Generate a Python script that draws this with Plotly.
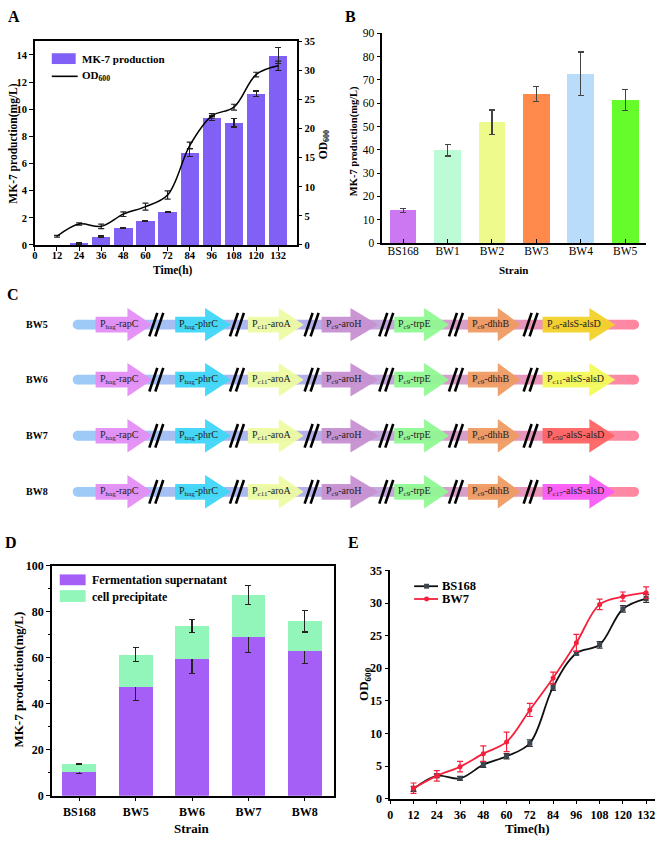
import plotly.graph_objects as go

W, H = 669, 843
FONT = 'Liberation Serif'


def px(x):
    return x / W


def py(y):
    return 1 - y / H


# ---------------- data ----------------
# A: BS168 time course
time_a = [12, 24, 36, 48, 60, 72, 84, 96, 108, 120, 132]
mk7_time = [24, 36, 48, 60, 72, 84, 96, 108, 120, 132]
mk7_a = [0.1, 0.62, 1.22, 1.78, 2.42, 6.8, 9.35, 9.0, 11.15, 13.95]
mk7_a_err = [0.05, 0.04, 0.03, 0.04, 0.05, 0.3, 0.15, 0.3, 0.2, 0.6]
od_a = [1.5, 3.6, 3.2, 5.3, 6.6, 8.6, 17.1, 22.2, 23.7, 29.3, 30.8]
od_a_err = [0.15, 0.2, 0.4, 0.4, 0.6, 0.7, 0.6, 0.4, 0.5, 0.4, 0.8]

# B: strains
strains_b = ['BS168', 'BW1', 'BW2', 'BW3', 'BW4', 'BW5']
mk7_b = [14.0, 39.8, 51.9, 63.8, 72.7, 61.3]
mk7_b_err = [0.8, 2.5, 5.2, 3.2, 9.3, 4.5]
colors_b = ['#cc78f2', '#bbfbd6', '#eefb8c', '#ff8a4c', '#b8dcfa', '#66fb2a']

# C: constructs
strains_c = ['BW5', 'BW6', 'BW7', 'BW8']
genes = ['rapC', 'phrC', 'aroA', 'aroH', 'trpE', 'dhhB', 'alsS-alsD']
promoters = ['hag', 'hag', 'c11', 'c9', 'c9', 'c9']
als_promoters = ['c9', 'c11', 'c50', 'c17']
gene_colors = ['#e48ef5', '#3fd6f7', '#edfca2', '#c690d1', '#90f991', '#ef9b63']
als_colors = ['#f1d22a', '#f3fb5a', '#ff6464', '#fa5cf6']

# D: supernatant vs cells
strains_d = ['BS168', 'BW5', 'BW6', 'BW7', 'BW8']
sup_d = [10.5, 47.3, 59.4, 69.0, 62.8]
sup_err = [1.0, 5.8, 6.3, 6.8, 5.5]
prec_d = [3.3, 14.0, 14.2, 18.3, 13.0]
prec_err = [0.3, 3.0, 2.8, 4.2, 4.7]

# E: growth curves
time_e = [12, 24, 36, 48, 60, 72, 84, 96, 108, 120, 132]
od_bs168 = [1.5, 3.5, 3.1, 5.2, 6.5, 8.5, 17.1, 22.3, 23.6, 29.1, 30.7]
od_bs168_err = [0.4, 0.3, 0.3, 0.4, 0.4, 0.5, 0.5, 0.3, 0.5, 0.5, 0.6]
od_bw7 = [1.6, 3.5, 4.9, 6.9, 8.7, 13.6, 18.5, 23.9, 29.8, 31.0, 31.6]
od_bw7_err = [0.8, 0.8, 0.8, 1.2, 1.5, 1.0, 0.9, 1.3, 0.8, 0.7, 0.9]

BAR_A = '#8060f5'
SUP_COL = '#a55ff7'
PREC_COL = '#92f6ba'
RED = '#f4203c'

fig = go.Figure()

# ---- A ----
fig.add_trace(go.Bar(
    x=mk7_time, y=mk7_a, width=10, marker=dict(color=BAR_A, line=dict(width=0)),
    error_y=dict(type='data', array=mk7_a_err, color='#222', thickness=1.2, width=3),
    xaxis='x', yaxis='y', showlegend=False))
fig.add_trace(go.Scatter(
    x=time_a, y=od_a, mode='lines', line=dict(color='black', width=1.5, shape='spline'),
    error_y=dict(type='data', array=od_a_err, color='#222', thickness=1.2, width=3),
    xaxis='x', yaxis='y2', showlegend=False))

# ---- B ----
fig.add_trace(go.Bar(
    x=strains_b, y=mk7_b, width=0.6, marker=dict(color=colors_b, line=dict(width=0)),
    error_y=dict(type='data', array=mk7_b_err, color='#444', thickness=1.2, width=3),
    xaxis='x2', yaxis='y3', showlegend=False))

# ---- D ----
fig.add_trace(go.Bar(
    x=strains_d, y=sup_d, width=0.6, marker=dict(color=SUP_COL, line=dict(width=0)),
    error_y=dict(type='data', array=sup_err, color='#222', thickness=1.2, width=3),
    xaxis='x3', yaxis='y4', showlegend=False))
fig.add_trace(go.Bar(
    x=strains_d, y=prec_d, width=0.6, marker=dict(color=PREC_COL, line=dict(width=0)),
    error_y=dict(type='data', array=prec_err, color='#222', thickness=1.2, width=3),
    xaxis='x3', yaxis='y4', showlegend=False))

# ---- E ----
fig.add_trace(go.Scatter(
    x=time_e, y=od_bs168, mode='lines+markers',
    line=dict(color='#111', width=1.8, shape='spline'),
    marker=dict(symbol='square', size=5, color='#3c4650'),
    error_y=dict(type='data', array=od_bs168_err, color='#333', thickness=1.2, width=3),
    xaxis='x4', yaxis='y5', showlegend=False))
fig.add_trace(go.Scatter(
    x=time_e, y=od_bw7, mode='lines+markers',
    line=dict(color=RED, width=1.8, shape='spline'),
    marker=dict(symbol='circle', size=5, color=RED),
    error_y=dict(type='data', array=od_bw7_err, color=RED, thickness=1.2, width=3),
    xaxis='x4', yaxis='y5', showlegend=False))

shapes = []
annotations = []


def bold(size):
    return dict(family=FONT, size=size, color='black', weight='bold')


def note(text, x, y, size, angle=0, anchor='center', weight='bold', color='black', ref=('paper', 'paper')):
    annotations.append(dict(
        text=text, x=x, y=y, xref=ref[0], yref=ref[1], showarrow=False,
        textangle=angle, xanchor=anchor, yanchor='middle',
        font=dict(family=FONT, size=size, color=color, weight=weight)))


# ---- C diagram (pixel-coordinate hidden axes) ----
row_y = [323, 379, 436, 493]
arrow_x = [(93, 125, 150), (173, 203, 229), (246, 277, 302), (320, 349, 377),
           (393, 423, 448), (467, 497, 520), (542, 589, 615)]
slash_x = [154, 235, 310, 385, 455, 530]
track_x0, track_x1 = 75, 634
grad_stops = [(75, (158, 203, 248)), (300, (178, 176, 236)), (430, (210, 162, 210)),
              (634, (255, 136, 160))]


def grad(x):
    for (xa, ca), (xb, cb) in zip(grad_stops[:-1], grad_stops[1:]):
        if xa <= x <= xb:
            t = (x - xa) / (xb - xa)
            return 'rgb(%d,%d,%d)' % tuple(int(a + (b - a) * t) for a, b in zip(ca, cb))
    return 'rgb(%d,%d,%d)' % grad_stops[-1][1]


C = dict(xref='x5', yref='y6')
for i, strain in enumerate(strains_c):
    yc = row_y[i]
    note('<b>%s</b>' % strain, 34, yc, 10, ref=('x5', 'y6'))
    # track with colour gradient and rounded ends
    th = 5
    shapes.append(dict(type='circle', x0=track_x0 - th, x1=track_x0 + th, y0=yc - th, y1=yc + th,
                       fillcolor=grad(track_x0), line=dict(width=0), layer='below', **C))
    shapes.append(dict(type='circle', x0=track_x1 - th, x1=track_x1 + th, y0=yc - th, y1=yc + th,
                       fillcolor=grad(track_x1), line=dict(width=0), layer='below', **C))
    step = 10
    xs = track_x0
    while xs < track_x1:
        xe = min(xs + step + 0.6, track_x1)
        shapes.append(dict(type='rect', x0=xs, x1=xe, y0=yc - th, y1=yc + th,
                           fillcolor=grad(xs + step / 2), line=dict(width=0), layer='below', **C))
        xs += step
    # arrows
    for j, gene in enumerate(genes):
        x0, xh, xt = arrow_x[j]
        col = gene_colors[j] if j < 6 else als_colors[i]
        prom = promoters[j] if j < 6 else als_promoters[i]
        bh, hh = 8, 17
        path = 'M %g,%g L %g,%g L %g,%g L %g,%g L %g,%g L %g,%g L %g,%g Z' % (
            x0, yc - bh, xh, yc - bh, xh, yc - hh, xt, yc, xh, yc + hh, xh, yc + bh, x0, yc + bh)
        shapes.append(dict(type='path', path=path, fillcolor=col, line=dict(width=0),
                           opacity=0.95, **C))
        note('P<sub>%s</sub>-%s' % (prom, gene), x0 + 2, yc, 10, anchor='left',
             weight='normal', color='#222', ref=('x5', 'y6'))
    # break marks
    for sx in slash_x:
        for d in (-3, 3):
            shapes.append(dict(type='line', x0=sx + d - 4, y0=yc + 12, x1=sx + d + 4, y1=yc - 12,
                               line=dict(color='black', width=2.6), **C))

# ---- legends (drawn) ----
# A
shapes.append(dict(type='rect', xref='paper', yref='paper', x0=px(49), x1=px(73),
                   y0=py(58), y1=py(47), fillcolor=BAR_A, line=dict(width=0)))
note('MK-7 production', px(77), py(52.5), 11, anchor='left')
shapes.append(dict(type='line', xref='paper', yref='paper', x0=px(49), x1=px(75),
                   y0=py(70.5), y1=py(70.5), line=dict(color='black', width=1.6)))
note('OD<sub>600</sub>', px(77), py(70.5), 11, anchor='left')
# D
shapes.append(dict(type='rect', xref='paper', yref='paper', x0=px(57), x1=px(83),
                   y0=py(588), y1=py(577), fillcolor=SUP_COL, line=dict(width=0)))
note('Fermentation supernatant', px(87), py(583), 12, anchor='left')
shapes.append(dict(type='rect', xref='paper', yref='paper', x0=px(57), x1=px(83),
                   y0=py(605), y1=py(593), fillcolor=PREC_COL, line=dict(width=0)))
note('cell precipitate', px(87), py(600), 12, anchor='left')
# E
for yy, col, sym, lab in [(589, '#111', 'square', 'BS168'), (602, RED, 'circle', 'BW7')]:
    shapes.append(dict(type='line', xref='paper', yref='paper', x0=px(413), x1=px(437),
                       y0=py(yy), y1=py(yy), line=dict(color=col, width=1.8)))
    shapes.append(dict(type='rect' if sym == 'square' else 'circle', xref='paper', yref='paper',
                       x0=px(423), x1=px(428), y0=py(yy + 2.5), y1=py(yy - 2.5),
                       fillcolor='#3c4650' if sym == 'square' else RED, line=dict(width=0)))
    note(lab, px(439), py(yy), 12.5, anchor='left')

# ---- axis titles & panel letters ----
note('MK-7 production(mg/L)', px(11), py(139), 11.5, angle=-90)
note('OD<sub>600</sub>', px(322), py(140), 11.5, angle=-90)
note('Time(h)', px(171), py(268), 11.5)
note('MK-7 production(mg/L)', px(352), py(136), 10.5, angle=-90)
note('Strain', px(513), py(267), 11)
note('MK-7 production(mg/L)', px(16), py(684), 13, angle=-90)
note('Strain', px(189), py(835), 13)
note('OD<sub>600</sub>', px(363), py(688), 13, angle=-90)
note('Time(h)', px(527), py(835), 13)
for lab, x, y in [('A', 11, 10), ('B', 349, 10), ('C', 10, 292), ('D', 8, 545), ('E', 352, 545)]:
    note(lab, px(x), py(y), 16)

axis_common = dict(showline=True, linecolor='black', linewidth=1.5, showgrid=False,
                   zeroline=False, ticks='outside', ticklen=4, tickwidth=1.2, tickcolor='black')

fig.update_layout(
    width=W, height=H, margin=dict(l=0, r=0, t=0, b=0),
    paper_bgcolor='white', plot_bgcolor='rgba(0,0,0,0)',
    barmode='stack', showlegend=False,
    font=dict(family=FONT, color='black'),
    xaxis=dict(domain=[px(32), px(295)], anchor='y', range=[0, 142],
               tickvals=list(range(0, 133, 12)), mirror=True, ticklabelstandoff=-4,
               tickfont=bold(10.5), **axis_common),
    yaxis=dict(domain=[py(242), py(35)], anchor='x', range=[0, 15], dtick=2,
               tickfont=bold(10.5), **axis_common),
    yaxis2=dict(overlaying='y', side='right', anchor='x', range=[0, 35], dtick=5,
                tickfont=bold(10.5), **axis_common),
    xaxis2=dict(domain=[px(381), px(646)], anchor='y3', range=[-0.47, 5.47],
                ticklabelstandoff=-4,
                tickfont=dict(family=FONT, size=11.5, color='black'),
                **{**axis_common, 'ticks': 'inside', 'ticklen': 4}),
    yaxis3=dict(domain=[py(240), py(26.7)], anchor='x2', range=[0, 90], dtick=10,
                tickfont=dict(family=FONT, size=11.5, color='black'), **axis_common),
    xaxis3=dict(domain=[px(49), px(332)], anchor='y4', range=[-0.49, 4.51], mirror=True,
                tickfont=bold(12), **axis_common),
    yaxis4=dict(domain=[py(802), py(568)], anchor='x3', range=[0, 100], dtick=20, mirror=True,
                tickfont=bold(12), minor=dict(ticks='outside', dtick=10, ticklen=2.5,
                                              tickcolor='black'),
                **axis_common),
    xaxis4=dict(domain=[px(389), px(655)], anchor='y5', range=[0, 136.6],
                tickvals=list(range(0, 133, 12)), tickfont=bold(12), **axis_common),
    yaxis5=dict(domain=[py(805), py(573)], anchor='x4', range=[0, 35], dtick=5,
                tickfont=bold(12), **axis_common),
    xaxis5=dict(domain=[0, 1], anchor='y6', range=[0, W], visible=False, fixedrange=True),
    yaxis6=dict(domain=[py(530), py(278)], anchor='x5', range=[530, 278], visible=False,
                fixedrange=True),
    shapes=shapes, annotations=annotations,
)

# the page's default body margin would shift the whole figure by 8px
fig.write_html('out.html', config={'displayModeBar': False},
               post_script="document.body.style.margin='0';")
